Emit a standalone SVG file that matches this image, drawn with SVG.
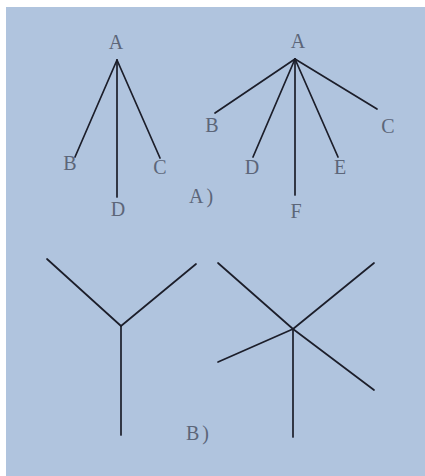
<svg xmlns="http://www.w3.org/2000/svg" width="425" height="476" viewBox="0 0 425 476">
<style>
.lbl{font-family:"Liberation Serif","Times New Roman",serif;font-size:20px;fill:#5c6679;text-anchor:middle}
.cap{font-family:"Liberation Serif","Times New Roman",serif;font-size:20px;fill:#5c6679;letter-spacing:3px}
.edge{stroke:#1c1e2a;stroke-width:1.7;fill:none;stroke-linecap:round}
</style>
<rect x="0" y="0" width="425" height="476" fill="#ffffff"/>
<rect x="6" y="7" width="419" height="469" fill="#b0c4de"/>
<g id="connectors">
<line class="edge" x1="117" y1="60" x2="75" y2="157"/>
<line class="edge" x1="117" y1="60" x2="117" y2="197"/>
<line class="edge" x1="117" y1="60" x2="160" y2="158"/>
<line class="edge" x1="295" y1="59" x2="215" y2="113"/>
<line class="edge" x1="295" y1="59" x2="253" y2="157"/>
<line class="edge" x1="295" y1="59" x2="295" y2="195"/>
<line class="edge" x1="295" y1="59" x2="338" y2="157"/>
<line class="edge" x1="295" y1="59" x2="377" y2="109"/>
<line class="edge" x1="47" y1="259" x2="121" y2="326"/>
<line class="edge" x1="196" y1="264" x2="121" y2="326"/>
<line class="edge" x1="121" y1="326" x2="121" y2="435"/>
<line class="edge" x1="218" y1="263" x2="293" y2="329"/>
<line class="edge" x1="374" y1="263" x2="293" y2="329"/>
<line class="edge" x1="218" y1="362" x2="293" y2="329"/>
<line class="edge" x1="293" y1="329" x2="374" y2="390"/>
<line class="edge" x1="293" y1="329" x2="293" y2="437"/>
</g>
<g id="tree1-A"><text class="lbl" x="116" y="49">A</text></g>
<g id="tree1-B"><text class="lbl" x="70" y="170">B</text></g>
<g id="tree1-C"><text class="lbl" x="160" y="174">C</text></g>
<g id="tree1-D"><text class="lbl" x="118" y="216">D</text></g>
<g id="tree2-A"><text class="lbl" x="298" y="48">A</text></g>
<g id="tree2-B"><text class="lbl" x="212" y="132">B</text></g>
<g id="tree2-C"><text class="lbl" x="388" y="133">C</text></g>
<g id="tree2-D"><text class="lbl" x="252" y="174">D</text></g>
<g id="tree2-E"><text class="lbl" x="340" y="174">E</text></g>
<g id="tree2-F"><text class="lbl" x="296" y="218">F</text></g>
<g id="caption-A"><text class="cap" x="189" y="203">A)</text></g>
<g id="caption-B"><text class="cap" x="186" y="440">B)</text></g>
</svg>
